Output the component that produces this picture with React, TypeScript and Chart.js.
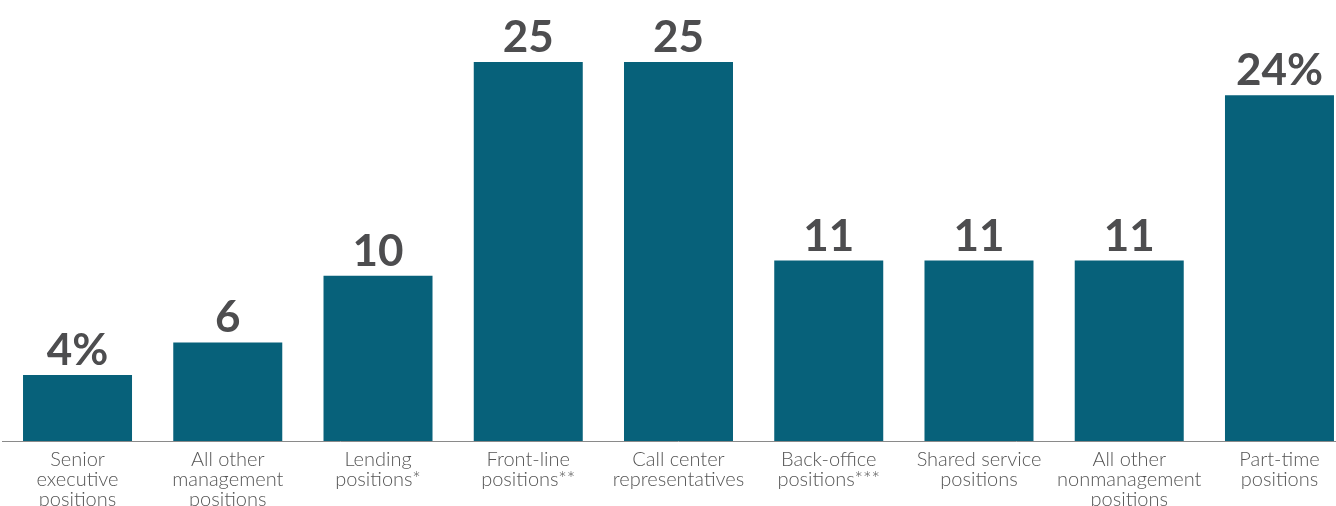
import React, { useEffect, useRef } from "react";
import { Chart, registerables } from "chart.js";

Chart.register(...registerables);

const categories: string[][] = [
  ["Senior", "executive", "positions"],
  ["All other", "management", "positions"],
  ["Lending", "positions*"],
  ["Front-line", "positions**"],
  ["Call center", "representatives"],
  ["Back-office", "positions***"],
  ["Shared service", "positions"],
  ["All other", "nonmanagement", "positions"],
  ["Part-time", "positions"],
];

// Bar heights (percent)
const shares = [4.35, 6.5, 10.9, 25, 25, 11.9, 11.9, 11.9, 22.8];
// Value labels printed above the bars
const valueLabels = ["4%", "6", "10", "25", "25", "11", "11", "11", "24%"];

const BAR_COLOR = "#07617A";
const TEXT_COLOR = "#4d4d4f";

const valueLabelPlugin = {
  id: "valueLabels",
  afterDatasetsDraw(chart: any) {
    const ctx = chart.ctx;
    const meta = chart.getDatasetMeta(0);
    ctx.save();
    ctx.font = "bold 44px Lato, 'Open Sans', sans-serif";
    ctx.fillStyle = TEXT_COLOR;
    ctx.textAlign = "center";
    ctx.textBaseline = "alphabetic";
    meta.data.forEach((bar: any, i: number) => {
      ctx.fillText(valueLabels[i], bar.x, bar.y - 10);
    });
    ctx.restore();
  },
};

export default function App() {
  const ref = useRef<HTMLCanvasElement | null>(null);

  useEffect(() => {
    if (!ref.current) return;
    const chart = new Chart(ref.current, {
      type: "bar",
      data: {
        labels: categories,
        datasets: [
          {
            data: shares,
            backgroundColor: BAR_COLOR,
            barPercentage: 0.7255,
            categoryPercentage: 1,
          },
        ],
      },
      options: {
        animation: false,
        responsive: false,
        devicePixelRatio: 1,
        layout: { padding: { left: 2.4, right: 1.4, top: 0, bottom: 0 } },
        plugins: {
          legend: { display: false },
          tooltip: { enabled: false },
        },
        scales: {
          x: {
            grid: { display: false, drawTicks: false },
            border: { display: true, color: "#8a8a8a", width: 1 },
            ticks: {
              color: "#555555",
              padding: 9,
              maxRotation: 0,
              autoSkip: false,
              font: { family: "Lato, 'Open Sans', sans-serif", size: 20, weight: 300, lineHeight: 1 },
            },
            afterFit(scale: any) {
              scale.height = 65;
            },
          },
          y: {
            display: false,
            min: 0,
            max: 29.09,
          },
        },
      },
      plugins: [valueLabelPlugin],
    });
    return () => chart.destroy();
  }, []);

  return (
    <div
      style={{
        position: "fixed",
        left: 0,
        top: 0,
        width: 1336,
        height: 506,
        overflow: "hidden",
        background: "#fff",
      }}
    >
      <canvas ref={ref} width={1356} height={506} style={{ display: "block" }} />
    </div>
  );
}
